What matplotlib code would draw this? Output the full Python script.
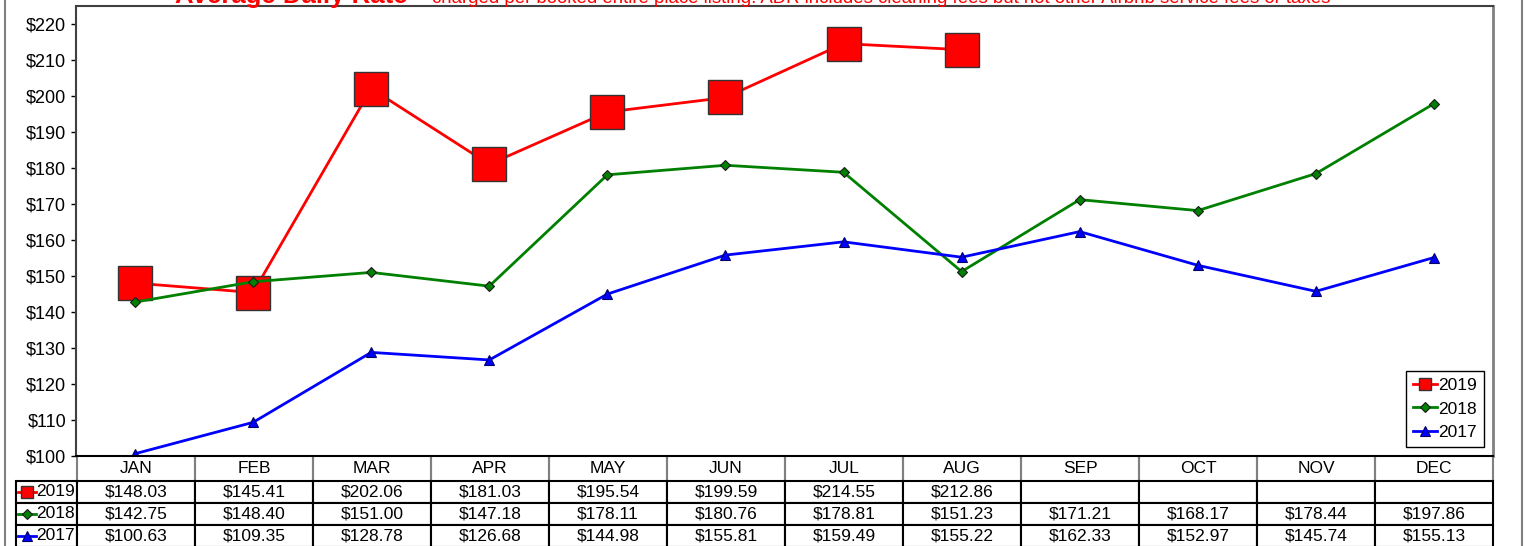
"""
    Average daily rate per month, 2017-2019, with a data table under the chart
"""

import matplotlib.pyplot as plt
import matplotlib.ticker as mticker
from matplotlib.lines import Line2D

plt.rcParams['font.family'] = ['Liberation Sans', 'DejaVu Sans']

months = ['JAN', 'FEB', 'MAR', 'APR', 'MAY', 'JUN', 'JUL', 'AUG', 'SEP', 'OCT', 'NOV', 'DEC']
years = ['2019', '2018', '2017']
adr_2019 = [148.03, 145.41, 202.06, 181.03, 195.54, 199.59, 214.55, 212.86]
adr_2018 = [142.75, 148.40, 151.00, 147.18, 178.11, 180.76, 178.81, 151.23, 171.21, 168.17, 178.44, 197.86]
adr_2017 = [100.63, 109.35, 128.78, 126.68, 144.98, 155.81, 159.49, 155.22, 162.33, 152.97, 145.74, 155.13]

W, H = 1525, 546
fig = plt.figure(figsize=(W/100, H/100), dpi=100)

#axes in pixel terms: x 76..1493, y 6..456 from top
ax = fig.add_axes([76/W, (H-456)/H, (1493-76)/W, (456-6)/H])

styles = [
    dict(color='#FF0000', marker='s', ms=24, mfc='#FF0000', mec='#333333', mew=1.0),
    dict(color='#008000', marker='D', ms=5.5, mfc='#008000', mec='#1a1a1a', mew=0.8),
    dict(color='#0000FF', marker='^', ms=7, mfc='#0000FF', mec='#000066', mew=0.8),
]
series = [adr_2019, adr_2018, adr_2017]

for vals, st, yr in zip(series, styles, years):
    ax.plot(range(len(vals)), vals, lw=2, label=yr, **st)

ax.set_xlim(-0.5, 11.5)
ax.set_ylim(100, 225)
ax.set_yticks(range(100, 221, 10))
ax.yaxis.set_major_formatter(mticker.StrMethodFormatter('${x:.0f}'))
ax.set_xticks([])
ax.tick_params(axis='y', direction='out', length=3.6, width=1, labelsize=13, pad=3.5)

ax.spines['left'].set_color('#404040')
ax.spines['left'].set_linewidth(1.5)
ax.spines['top'].set_color('#404040')
ax.spines['top'].set_linewidth(1.5)
ax.spines['right'].set_color('#808080')
ax.spines['right'].set_linewidth(2)
ax.spines['bottom'].set_color('black')
ax.spines['bottom'].set_linewidth(1.5)

#legend with small keys
def small_key(st):
    s = dict(st)
    if s['marker'] == 's':
        s['ms'] = 9
    return s

handles = [Line2D([], [], lw=2, label=yr, **small_key(st)) for st, yr in zip(styles, years)]
leg = ax.legend(handles=handles, loc='lower right', fontsize=12.5, fancybox=False,
                edgecolor='black', framealpha=1, handlelength=1.4, handletextpad=0.1,
                labelspacing=0.5, borderpad=0.4, borderaxespad=0.5)
leg.get_frame().set_linewidth(1)

#data table below the axes
def fmt(v):
    return '$%.2f' % v

rows = [[''] + months]
for yr, vals in zip(years, series):
    rows.append([yr] + [fmt(v) for v in vals] + [''] * (12 - len(vals)))

axw, axh = 1493 - 76, 456 - 6
tbl = ax.table(cellText=rows, colWidths=[61] + [118]*12, cellLoc='center',
               bbox=[(16-76)/axw, -91/axh, 1477/axw, 91/axh])
tbl.auto_set_font_size(False)
tbl.set_fontsize(12.5)
for (r, c), cell in tbl.get_celld().items():
    cell.set_height(25 if r == 0 else 22)
    cell.set_linewidth(1.5)
    if r == 0:
        cell.set_edgecolor('#808080')
        cell.visible_edges = 'LR' if c > 0 else ''
    else:
        cell.set_edgecolor('black')
    if c == 0 and r > 0:
        cell.get_text().set_ha('right')
        cell._loc = 'right'
        cell.PAD = 0.04

#legend keys in the row label cells
key_y = [492, 514, 536]
for st, y in zip(styles, key_y):
    fig.add_artist(Line2D([18/W, 27/W, 36/W], [(H-y)/H]*3, lw=2, markevery=[1],
                          transform=fig.transFigure, **small_key(st)))

#outer frame
fig.add_artist(Line2D([5/W, 5/W], [0, 1], color='#808080', lw=1.5, transform=fig.transFigure))
fig.add_artist(Line2D([1522/W, 1522/W], [0, 1], color='#808080', lw=1.5, transform=fig.transFigure))

#title, mostly cut off at the top edge as in the original
fig.text(408/W, 1 - 3/H, 'Average Daily Rate', ha='right', va='baseline',
         color='#FF0000', fontsize=18.5, fontweight='bold')
fig.text(432/W, 1 - 3/H,
         'charged per booked entire place listing. ADR includes cleaning fees but not other Airbnb service fees or taxes',
         ha='left', va='baseline', color='#FF0000', fontsize=13.4)

fig.savefig('out.png', dpi=100)
